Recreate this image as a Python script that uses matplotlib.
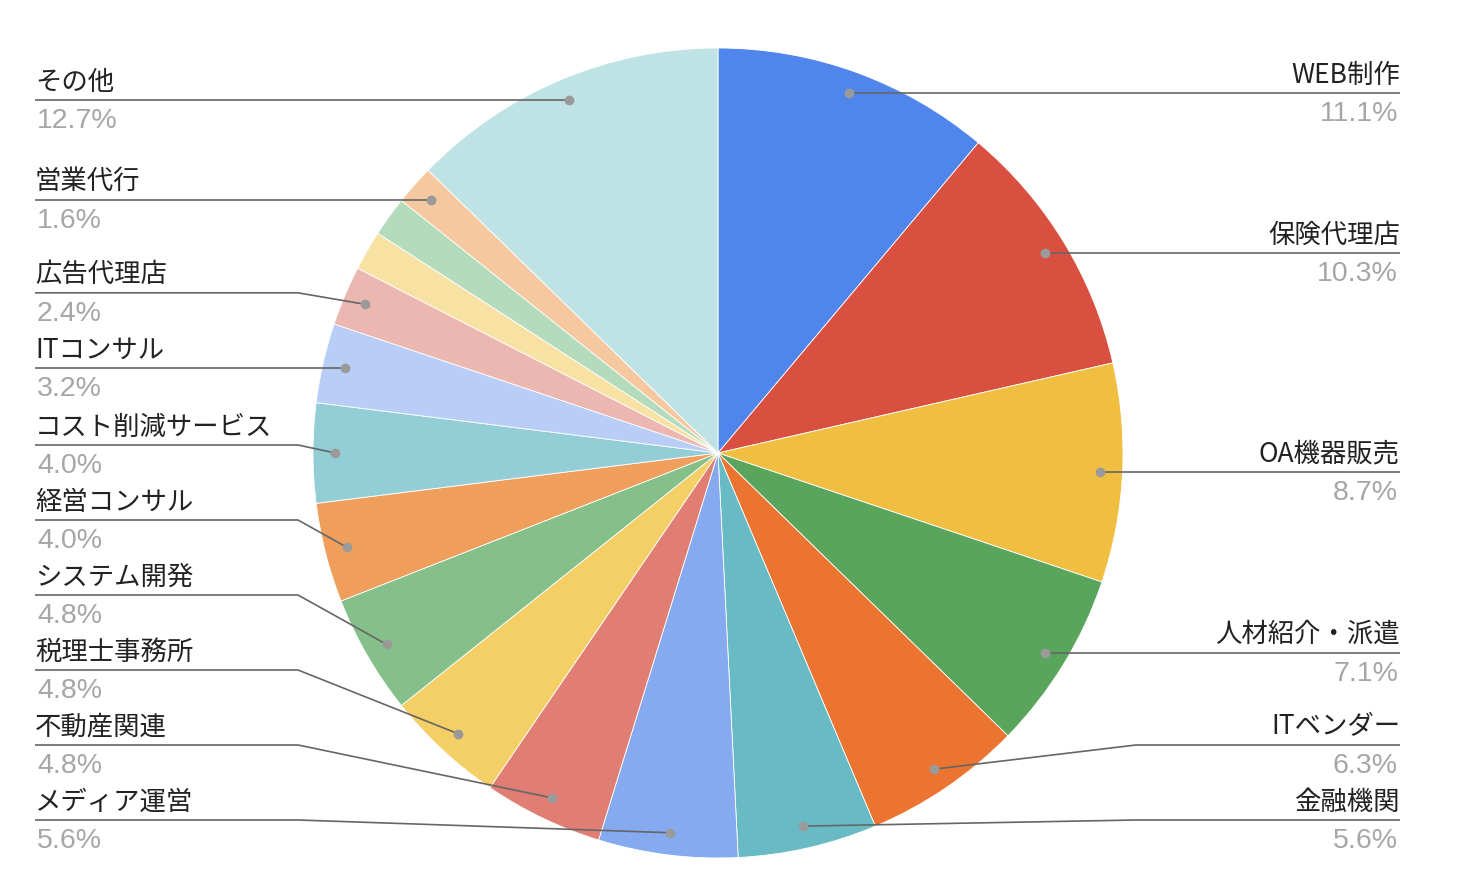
import numpy as np
import matplotlib
matplotlib.use('Agg')
import matplotlib.pyplot as plt

plt.rcParams['font.family'] = ['Noto Sans CJK JP', 'DejaVu Sans']

# 業種ごとの件数（時計回り、12時の位置から）
categories = ['WEB制作', '保険代理店', 'OA機器販売', '人材紹介・派遣', 'ITベンダー', '金融機関',
              'メディア運営', '不動産関連', '税理士事務所', 'システム開発', '経営コンサル',
              'コスト削減サービス', 'ITコンサル', '広告代理店', '', '', '営業代行', 'その他']
counts = [14, 13, 11, 9, 8, 7, 7, 6, 6, 6, 5, 5, 4, 3, 2, 2, 2, 16]
colors = ['#5086ec', '#d95040', '#f0bf42', '#59a55c', '#ec7431', '#68bac4',
          '#85aaf0', '#e07e74', '#f4cf65', '#85bf8a', '#f09e5b', '#93ced6',
          '#b8cef6', '#ecb6b1', '#f8e2a3', '#b5dbbd', '#f6c8a0', '#bfe3e5']

W, H = 1462, 888
cx, cy, r = 718, 435, 405
fig = plt.figure(figsize=(W / 100, H / 100), dpi=100)
ax = fig.add_axes([0, 0, 1, 1])

ax.pie(counts, colors=colors, startangle=90, counterclock=False,
       center=(cx, cy), radius=r, frame=True,
       wedgeprops=dict(edgecolor='white', linewidth=0.6))
ax.set_xlim(0, W)
ax.set_ylim(0, H)
ax.axis('off')

total = sum(counts)
cum = np.cumsum([0] + counts)
left, right = [], []
for i, name in enumerate(categories):
    if not name:
        continue
    mid = (cum[i] + counts[i] / 2) / total * 2 * np.pi  # 12時から時計回り
    dx, dy = cx + 0.945 * r * np.sin(mid), cy + 0.945 * r * np.cos(mid)
    item = dict(name=name, pct=f'{counts[i] / total * 100:.1f}%', dot=(dx, dy))
    (right if mid < np.pi else left).append(item)

# ラベルの重なりを下から順に押し上げて解消
gap, bottom = 75, 68
for side in (left, right):
    side.sort(key=lambda d: d['dot'][1])
    prev = None
    for d in side:
        y = max(d['dot'][1], bottom if prev is None else prev + gap)
        d['y'] = y
        prev = y

line_col = '#666666'
for side, tx, knee, ha in ((left, 35, cx - r - 15, 'left'), (right, 1400, cx + r + 13, 'right')):
    for d in side:
        ly = d['y']
        px, py = d['dot']
        if abs(ly - py) < 3:
            xs, ys = [tx, px], [ly, py]
        else:
            xs, ys = [tx, knee, px], [ly, ly, py]
        ax.plot(xs, ys, color=line_col, lw=1.2, solid_capstyle='butt', zorder=3)
        ax.plot(px, py, 'o', color='#9a9a9a', markersize=6, zorder=4)
        ax.text(tx, ly + 18, d['name'], ha=ha, va='center', fontsize=19, color='#222222')
        ax.text(tx + (2 if ha == 'left' else -2), ly - 21, d['pct'], ha=ha, va='center',
                fontsize=20.5, color='#a6a6a6', family=['Liberation Sans', 'DejaVu Sans'])

fig.savefig('out.png', dpi=100, facecolor='white')
